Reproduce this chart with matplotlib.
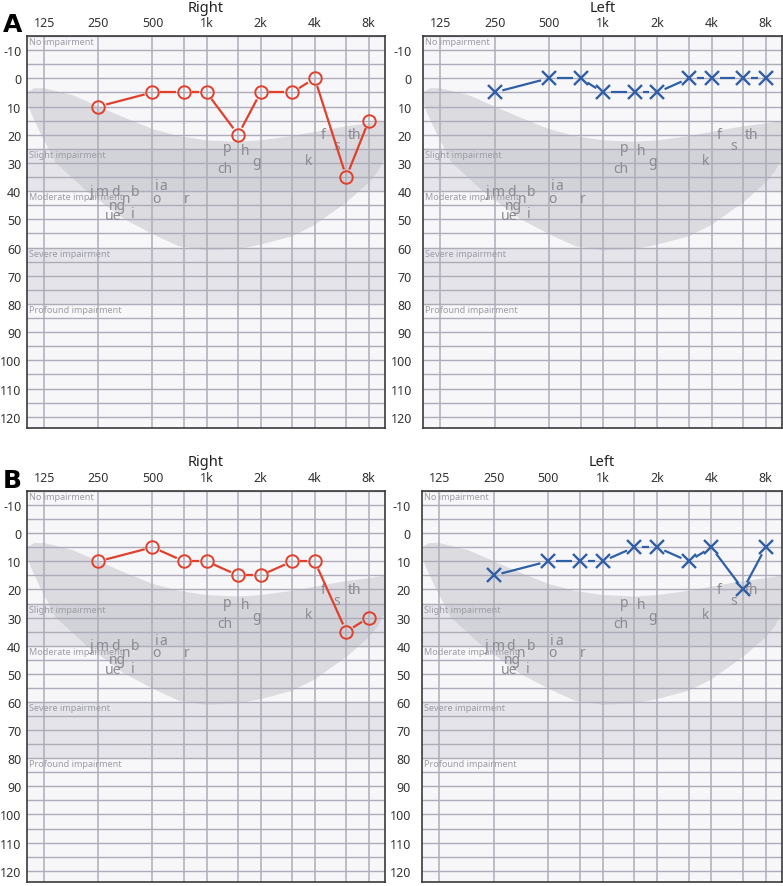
import numpy as np
import matplotlib.pyplot as plt
from matplotlib.patches import Polygon

plt.rcParams['font.family'] = ['Noto Sans', 'DejaVu Sans']
plt.rcParams['axes.unicode_minus'] = False

# audiogram thresholds (Hz -> dB HL)
freqs = [250, 500, 750, 1000, 1500, 2000, 3000, 4000, 6000, 8000]
a_right = [10, 5, 5, 5, 20, 5, 5, 0, 35, 15]
a_left = [5, 0, 0, 5, 5, 5, 0, 0, 0, 0]
b_right = [10, 5, 10, 10, 15, 15, 10, 10, 35, 30]
b_left = [15, 10, 10, 10, 5, 5, 10, 5, 20, 5]

tick_freqs = [125, 250, 500, 1000, 2000, 4000, 8000]
tick_labels = ['125', '250', '500', '1k', '2k', '4k', '8k']
grid_freqs = [125, 250, 500, 750, 1000, 1500, 2000, 3000, 4000, 6000, 8000]

# speech banana outline
banana_top_f = [100, 110, 125, 180, 250, 350, 500, 700, 1000, 1500, 2000, 3000, 4000, 6000, 8000, 10100]
banana_top_db = [5, 3.5, 3.5, 6, 10, 14, 18, 20.5, 22, 22.5, 22, 20.5, 19, 17, 16, 15]
banana_bot_f = [10100, 9000, 8000, 6000, 4000, 3000, 2000, 1500, 1000, 700, 530, 350, 215, 145, 120, 105, 100]
banana_bot_db = [27, 33, 37, 44, 52, 56, 59, 60.5, 61, 59.5, 56, 50, 40, 30, 20, 12, 8]

# speech sounds
sounds = ['j', 'm', 'd', 'n', 'b', 'i', 'a', 'o', 'r', 'ng', 'ue', 'i',
          'p', 'h', 'g', 'ch', 'k', 'f', 's', 'th']
sound_f = [228, 264, 310, 356, 400, 525, 575, 525, 775, 319, 303, 386,
           1310, 1630, 1890, 1260, 3700, 4440, 5300, 6680]
sound_db = [40, 40, 40, 42.5, 40, 38, 38, 42.5, 42.5, 45, 48.5, 48,
            24.5, 25.5, 29.5, 32, 29, 20, 24, 20]

degrees = ['No impairment', 'Slight impairment', 'Moderate impairment',
           'Severe impairment', 'Profound impairment']
degree_db = [-13, 27, 42, 62, 82]
bands = [(25, 40), (60, 80)]

RED = '#e0402c'
BLUE = '#2f5fa6'
W, H = 783, 887


def draw_panel(rect, title, values, color, marker, ylab_pad):
    x0, top, x1, bot = rect
    ax = fig.add_axes([x0 / W, 1 - bot / H, (x1 - x0) / W, (bot - top) / H])
    ax.set_facecolor('#f7f7f9')
    ax.set_xlim(np.log2(125) - 0.32, np.log2(8000) + 0.30)
    ax.set_ylim(124, -15)

    for lo, hi in bands:
        ax.axhspan(lo, hi, color='#e4e4ea', zorder=0)
    pts = [(np.log2(f), d) for f, d in zip(banana_top_f, banana_top_db)]
    pts += [(np.log2(f), d) for f, d in zip(banana_bot_f, banana_bot_db)]
    ax.add_patch(Polygon(pts, closed=True, facecolor='#c4c4cc', alpha=0.55,
                         edgecolor='none', zorder=1))

    for f in grid_freqs:
        ax.axvline(np.log2(f), color='#aeacb8', lw=1.1, zorder=2)
    for d in range(-15, 125, 5):
        ax.axhline(d, color='#aeacb8', lw=1.0, zorder=2)

    for lab, d in zip(degrees, degree_db):
        ax.text(np.log2(103), d, lab, fontsize=6.5, color='#9c9ca6',
                va='center', ha='left', zorder=3)
    for s, f, d in zip(sounds, sound_f, sound_db):
        ax.text(np.log2(f), d, s, fontsize=10, color='#8a8a90',
                va='center', ha='center', zorder=3)

    ax.set_xticks([np.log2(f) for f in tick_freqs])
    ax.set_xticklabels(tick_labels)
    ax.xaxis.tick_top()
    ax.set_yticks(range(-10, 130, 10))
    ax.tick_params(axis='x', length=0, pad=5, labelsize=9, labelcolor='#333333')
    ax.tick_params(axis='y', length=0, pad=ylab_pad, labelsize=9, labelcolor='#333333')
    for sp in ax.spines.values():
        sp.set_color('#3a3a3a')
        sp.set_linewidth(1.2)

    fig.text((x0 + x1) / 2 / W, 1 - (top - 29) / H, title, fontsize=10.5,
             color='#222222', ha='center', va='center')

    # connecting segments, stopped short of each symbol
    xs = np.log2(freqs)
    disp = ax.transData.transform(np.column_stack([xs, values]))
    inv = ax.transData.inverted()
    gap = 8
    for i in range(len(xs) - 1):
        p, q = disp[i], disp[i + 1]
        v = q - p
        n = np.hypot(*v)
        if n <= 2 * gap:
            continue
        u = v / n
        a = inv.transform(p + u * gap)
        b = inv.transform(q - u * gap)
        ax.plot([a[0], b[0]], [a[1], b[1]], color=color, lw=1.6, zorder=4,
                solid_capstyle='butt')
    if marker == 'o':
        ax.plot(xs, values, 'o', ms=9, mfc='none', mec=color, mew=1.4, zorder=5)
    else:
        ax.plot(xs, values, 'x', ms=9.5, color=color, mew=1.7, zorder=5)
    return ax


fig = plt.figure(figsize=(W / 100, H / 100), dpi=100)

draw_panel((27, 37, 385, 429), 'Right', a_right, RED, 'o', 4)
draw_panel((423, 37, 782, 429), 'Left', a_left, BLUE, 'x', 8)
draw_panel((27, 492, 385, 883), 'Right', b_right, RED, 'o', 4)
draw_panel((422, 492, 782, 883), 'Left', b_left, BLUE, 'x', 8)

fig.text(3 / W, 1 - 25 / H, 'A', fontsize=18, fontweight='bold',
         family='DejaVu Sans', va='center')
fig.text(3 / W, 1 - 481 / H, 'B', fontsize=18, fontweight='bold',
         family='DejaVu Sans', va='center')

fig.savefig('out.png', dpi=100)
